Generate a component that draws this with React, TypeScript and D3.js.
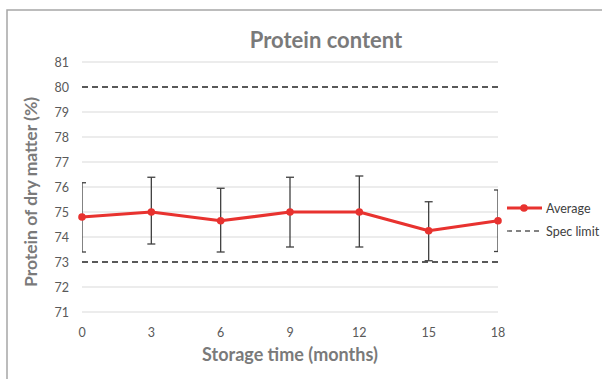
import React from "react";
import * as d3 from "d3";

const months = [0, 3, 6, 9, 12, 15, 18];
const average = [74.8, 75.0, 74.65, 75.0, 75.0, 74.25, 74.65];
const errUpper = [76.17, 76.39, 75.95, 76.39, 76.44, 75.41, 75.88];
const errLower = [73.4, 73.72, 73.4, 73.6, 73.6, 73.05, 73.42];
const specLimits = [80, 73];
const yTicks = [71, 72, 73, 74, 75, 76, 77, 78, 79, 80, 81];
const xTicks = [0, 3, 6, 9, 12, 15, 18];

const W = 602;
const H = 379;
const font = "Lato, 'Open Sans', sans-serif";

export default function App() {
  const x = d3.scaleLinear().domain([0, 18]).range([82, 498]);
  const y = d3.scaleLinear().domain([71, 81]).range([312, 62]);
  const line = d3
    .line<number>()
    .x((_, i) => x(months[i]))
    .y((d) => y(d));
  const [x0, x1] = x.range();
  return (
    <svg
      width={W}
      height={H}
      style={{ position: "absolute", left: 0, top: 0, background: "#fff" }}
    >
      <defs>
        <clipPath id="plot">
          <rect x={x0} y={0} width={x1 - x0} height={H} />
        </clipPath>
      </defs>
      <rect x={7} y={10} width={W} height={H} fill="none" stroke="#a6a6a6" strokeWidth={1.5} />
      <text x={326} y={48} textAnchor="middle" fontFamily={font} fontWeight="bold" fontSize={22} fill="#7a7a7a">
        Protein content
      </text>
      {yTicks.map((t) => (
        <g key={t}>
          {!specLimits.includes(t) && (
            <line x1={x0} x2={x1} y1={y(t)} y2={y(t)} stroke="#d9d9d9" strokeWidth={1} />
          )}
          <text x={69} y={y(t) + 4.5} textAnchor="end" fontFamily={font} fontSize={12.5} fill="#595959">
            {t}
          </text>
        </g>
      ))}
      {xTicks.map((t) => (
        <text key={t} x={x(t)} y={337} textAnchor="middle" fontFamily={font} fontSize={12.5} fill="#595959">
          {t}
        </text>
      ))}
      {specLimits.map((s) => (
        <line key={s} x1={x0} x2={x1} y1={y(s)} y2={y(s)} stroke="#595959" strokeWidth={2} strokeDasharray="6,4" />
      ))}
      <g clipPath="url(#plot)" stroke="#404040" strokeWidth={1.3}>
        {months.map((m, i) => (
          <g key={m}>
            <line x1={x(m)} x2={x(m)} y1={y(errUpper[i])} y2={y(errLower[i])} />
            <line x1={x(m) - 4} x2={x(m) + 4} y1={y(errUpper[i])} y2={y(errUpper[i])} />
            <line x1={x(m) - 4} x2={x(m) + 4} y1={y(errLower[i])} y2={y(errLower[i])} />
          </g>
        ))}
      </g>
      <path d={line(average) || ""} fill="none" stroke="#e8322f" strokeWidth={3.2} strokeLinejoin="round" />
      {months.map((m, i) => (
        <circle key={m} cx={x(m)} cy={y(average[i])} r={3.8} fill="#e8322f" />
      ))}
      <line x1={507} x2={542} y1={208} y2={208} stroke="#e8322f" strokeWidth={3.2} />
      <circle cx={524} cy={208} r={3.8} fill="#e8322f" />
      <text x={546} y={212.5} fontFamily={font} fontSize={12.5} fill="#404040">Average</text>
      <line x1={507} x2={542} y1={231} y2={231} stroke="#595959" strokeWidth={1.3} strokeDasharray="5,4" />
      <text x={546} y={235.5} fontFamily={font} fontSize={12.5} fill="#404040">Spec limit</text>
      <text
        transform={`translate(37,${192}) rotate(-90)`}
        textAnchor="middle"
        fontFamily={font}
        fontWeight="bold"
        fontSize={17.5}
        fill="#7a7a7a"
      >
        Protein of dry matter (%)
      </text>
      <text x={290} y={361} textAnchor="middle" fontFamily={font} fontWeight="bold" fontSize={18} fill="#7a7a7a">
        Storage time (months)
      </text>
    </svg>
  );
}
